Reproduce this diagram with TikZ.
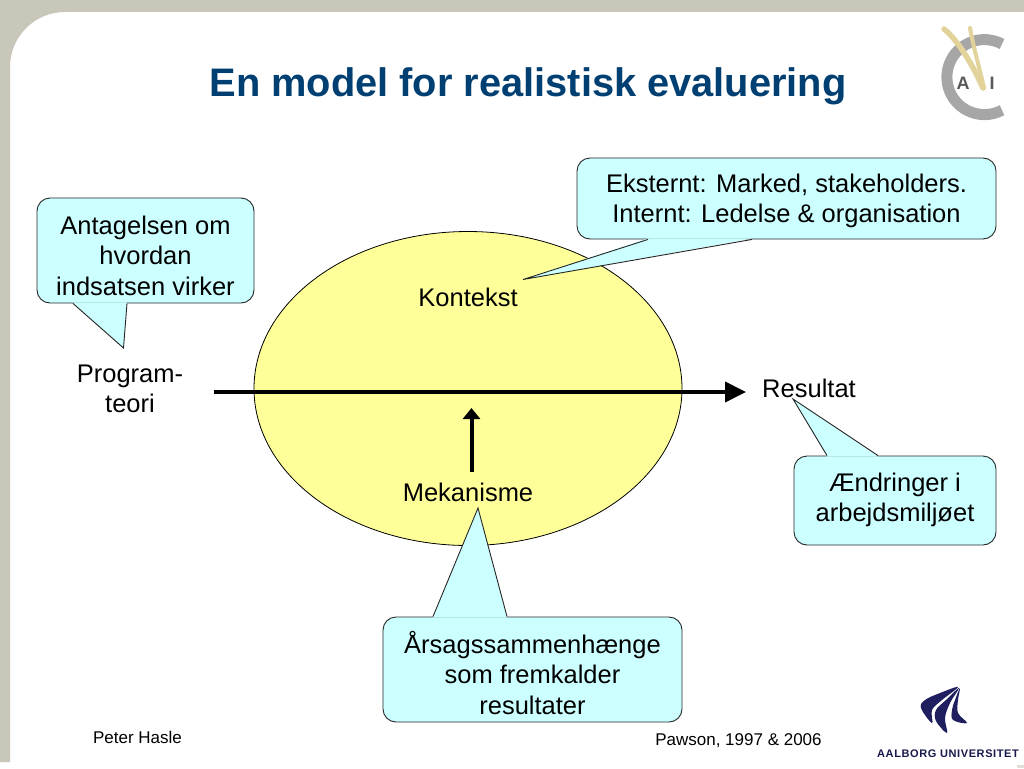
\documentclass[tikz,border=0pt]{standalone}
\usepackage{fontspec}
\setmainfont{Liberation Sans}
\newfontfamily\aauFont[LetterSpace=5.5]{Liberation Sans}
\usetikzlibrary{arrows.meta,shapes.geometric}
\definecolor{frameGray}{HTML}{C9C6BA}
\definecolor{titleBlue}{HTML}{003F72}
\definecolor{bubbleCyan}{HTML}{CCFFFF}
\definecolor{ovalYellow}{HTML}{FFFF99}
\definecolor{aauNavy}{HTML}{1F1F5F}
\definecolor{logoBeige}{HTML}{E2D39B}
\tikzset{
  txt/.style={font=\fontsize{25.5}{30.5}\selectfont,align=center,inner sep=0pt},
  smalltxt/.style={font=\fontsize{17}{19}\selectfont,inner sep=0pt},
  logotxt/.style={font=\fontsize{18}{20}\bfseries\selectfont,text=black!65,inner sep=0pt},
  bubble/.style={draw=black!85,fill=bubbleCyan,rounded corners=13pt,line width=0.9pt,inner sep=0pt},
  flow/.style={line width=4pt,-{Triangle[length=21pt,width=20pt]}}
}
\begin{document}
\begin{tikzpicture}[x=1pt,y=-1pt]
\useasboundingbox (0,0) rectangle (1024,768);
\fill[white] (0,0) rectangle (1024,768);
% frame
\fill[frameGray] (0,0) -- (1024,0) -- (1024,12) -- (65,12) arc (-90:-180:55) -- (10,762) -- (0,762) -- cycle;
\fill[frameGray!60] (1017,765) rectangle (1024,768);

\node[font=\fontsize{39.8}{42}\bfseries\selectfont,text=titleBlue,inner sep=0pt] (title) at (528,86) {En model for realistisk evaluering};

% oval and axis
\node[draw=black,fill=ovalYellow,line width=0.8pt,ellipse,minimum width=428pt,minimum height=314pt,inner sep=0pt] (oval) at (468,388.5) {};
\node[txt] (kontekst) at (468,297) {Kontekst};
\node[txt] (mekanisme) at (468,492) {Mekanisme};
\node[txt] (teori) at (130,389) {Program-\\teori};
\node[txt] (resultat) at (809,388.5) {Resultat};

\coordinate (axisStart) at (214,392);
\coordinate (axisEnd) at (746,392);
\coordinate (mekStart) at (471.5,472);
\coordinate (mekEnd) at (471.5,408);
\draw[flow] (axisStart) -- (axisEnd);
\draw[line width=4pt,-{Triangle[length=11pt,width=17pt]}] (mekStart) -- (mekEnd);

% callouts
\node[bubble,minimum width=419pt,minimum height=81pt] (ekstern) at (786.5,198.5) {};
\node[bubble,minimum width=217pt,minimum height=105pt] (antagelse) at (145.5,250.5) {};
\node[bubble,minimum width=202pt,minimum height=89pt] (aendring) at (895,500.5) {};
\node[bubble,minimum width=299pt,minimum height=105pt] (aarsag) at (532.5,669.5) {};

\coordinate (eksternTip) at (523,279.5);
\coordinate (antagelseTip) at (123.5,348);
\coordinate (aendringTip) at (793,399);
\coordinate (aarsagTip) at (478,508);

\foreach \name/\side/\xa/\xb/\dy in {ekstern/south/648/752/1, antagelse/south/73/127/1, aendring/north/827/878/-1, aarsag/north/433/507/-1}
{
	\fill[bubbleCyan] ([yshift=\dy pt]\xa,0 |- \name.\side) -- (\name Tip) -- ([yshift=\dy pt]\xb,0 |- \name.\side) -- cycle;
	\draw[draw=black!85,line width=0.9pt,line join=miter] (\xa,0 |- \name.\side) -- (\name Tip) -- (\xb,0 |- \name.\side);
}

\node[txt] (eksternText) at (786.5,201) {Eksternt: Marked, stakeholders.\\Internt: Ledelse \& organisation};
\node[txt] (antagelseText) at (145.5,255.5) {Antagelsen om\\hvordan\\indsatsen virker};
\node[txt] (aendringText) at (895,500) {Ændringer i\\arbejdsmiljøet};
\node[txt] (aarsagText) at (532.5,672.5) {Årsagssammenhænge\\som fremkalder\\resultater};

\node[smalltxt] (hasle) at (137.5,737.5) {Peter Hasle};
\node[smalltxt] (pawson) at (738.5,740.5) {Pawson, 1997 \& 2006};

% CVAI logo
\draw[black!35,line width=11pt] (1002,44) arc (-62:-298:37.5);
\draw[logoBeige,line width=5.5pt,line cap=round] (944,29) .. controls (960,42) and (975,70) .. (983,88);
\draw[logoBeige,line width=4pt,line cap=round] (970,28) .. controls (974,50) and (980,70) .. (984,88);
\node[logotxt] (logoA) at (963,83) {A};
\node[logotxt] (logoI) at (992,83) {I};

% AAU logo
\fill[aauNavy] plot[smooth cycle,tension=.6] coordinates {(958,687) (940,693) (925,700) (921,708) (932,723) (932,710) (942,700)};
\fill[aauNavy] plot[smooth cycle,tension=.6] coordinates {(959,688) (946,700) (936,710) (936,721) (947,733) (945,718) (950,703)};
\fill[aauNavy] plot[smooth cycle,tension=.6] coordinates {(960,688) (955,700) (952,710) (953,720) (967,723) (958,713) (958,700)};
\node[font=\fontsize{11}{12}\bfseries\aauFont,inner sep=0pt,text=aauNavy!80!black] (aau) at (948,754) {AALBORG UNIVERSITET};
\end{tikzpicture}
\end{document}
